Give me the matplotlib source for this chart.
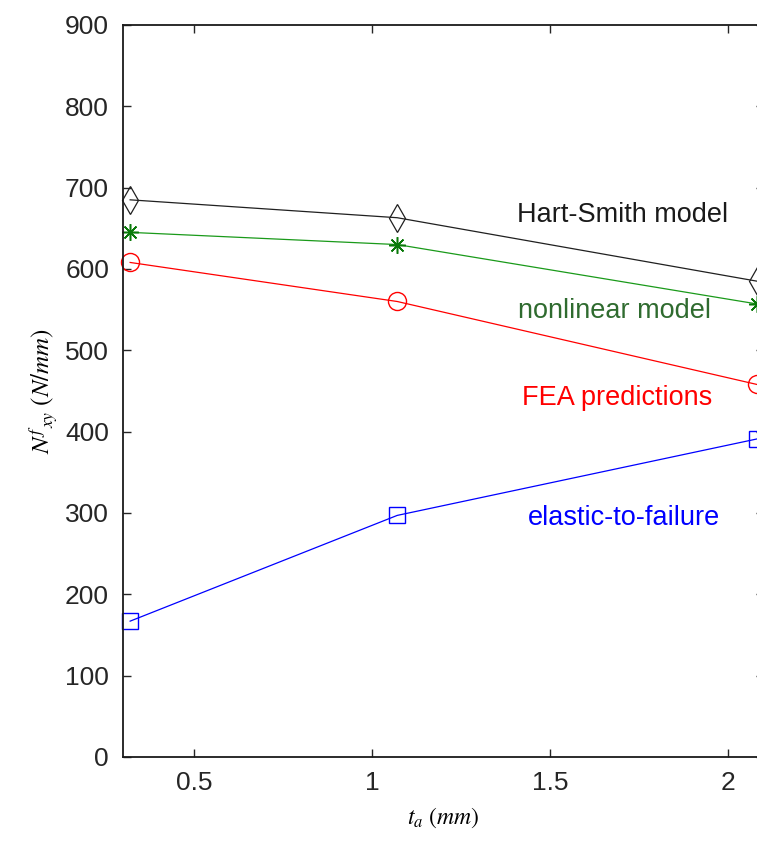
import matplotlib
matplotlib.use("Agg")
import matplotlib.pyplot as plt

# adhesive thickness (mm)
t_a = [0.32, 1.07, 2.08]

hart_smith = [685, 663, 585]
nonlinear = [645, 630, 557]
fea = [608, 560, 458]
elastic = [167, 297, 391]

plt.rcParams['font.family'] = ['Liberation Sans', 'DejaVu Sans']
plt.rcParams['mathtext.fontset'] = 'stix'

fig = plt.figure(figsize=(7.57, 8.49), dpi=100)
ax = fig.add_axes([0.1625, 0.1084, 0.8468, 0.8622])

ax.plot(t_a, hart_smith, '-', color='#202020', lw=0.9, marker='d', ms=14,
        mfc='none', mec='#202020', mew=0.9, clip_on=False)
ax.plot(t_a, nonlinear, '-', color='#1a9a1a', lw=0.9, marker=(8, 2, 0), ms=12,
        mec='#0a7a0a', mew=1.1, clip_on=False)
ax.plot(t_a, fea, '-', color='red', lw=0.9, marker='o', ms=13,
        mfc='none', mec='red', mew=1, clip_on=False)
ax.plot(t_a, elastic, '-', color='blue', lw=0.9, marker='s', ms=12,
        mfc='none', mec='blue', mew=1, clip_on=False)

txt = dict(fontsize=19.5, va='baseline', ha='left')
ax.text(1.407, 658, 'Hart-Smith model', color='#1a1a1a', **txt)
ax.text(1.410, 540, 'nonlinear model', color='#2f6b2f', **txt)
ax.text(1.421, 433, 'FEA predictions', color='red', **txt)
ax.text(1.438, 285, 'elastic-to-failure', color='blue', **txt)

ax.set_xlim(0.3, 2.1)
ax.set_ylim(0, 900)
ax.set_xticks([0.5, 1, 1.5, 2])
ax.set_xticklabels(['0.5', '1', '1.5', '2'])
ax.set_yticks(range(0, 901, 100))
ax.tick_params(direction='in', top=True, right=True, length=6, width=1,
               labelsize=19, colors='#262626')
ax.tick_params(axis='x', pad=10)
ax.tick_params(axis='y', pad=10)
for s in ax.spines.values():
    s.set_linewidth(1.3)
    s.set_color('#1a1a1a')

ax.set_xlabel(r'$t_a\ (mm)$', fontsize=17, labelpad=8)
ax.set_ylabel(r'$N^{f}{}_{xy}\ (N/mm)$', fontsize=18, labelpad=4)

fig.savefig('out.png', dpi=100, facecolor='white')
